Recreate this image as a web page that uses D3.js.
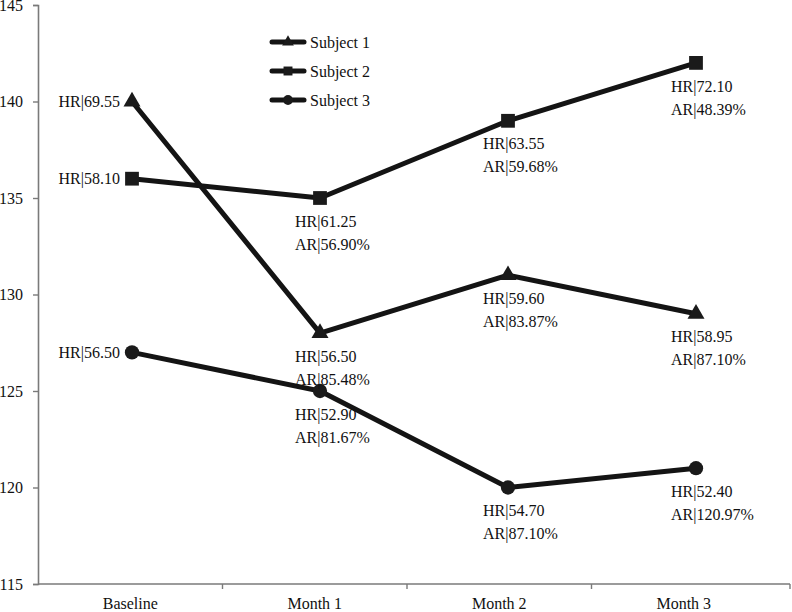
<!DOCTYPE html>
<html><head><meta charset="utf-8">
<script src="https://cdn.jsdelivr.net/npm/d3@7"></script>
</head><body style="margin:0;background:#fff"><svg id="c" width="792" height="612" font-family="Liberation Serif, Times New Roman, Times, serif"></svg>
<script>
const categories = ["Baseline","Month 1","Month 2","Month 3"];
const seriesNames = ["Subject 1","Subject 2","Subject 3"];
const subject1 = [140,128,131,129];
const subject2 = [136,135,139,142];
const subject3 = [127,125,120,121];
const hr1 = ["69.55","56.50","59.60","58.95"];
const ar1 = [null,"85.48%","83.87%","87.10%"];
const hr2 = ["58.10","61.25","63.55","72.10"];
const ar2 = [null,"56.90%","59.68%","48.39%"];
const hr3 = ["56.50","52.90","54.70","52.40"];
const ar3 = [null,"81.67%","87.10%","120.97%"];
const yTicks = [115,120,125,130,135,140,145];

(function(){
const series = [
  {name:seriesNames[0], values:subject1, hr:hr1, ar:ar1, sym:d3.symbolTriangle, size:125, lsize:60},
  {name:seriesNames[1], values:subject2, hr:hr2, ar:ar2, sym:d3.symbolSquare, size:190, lsize:80},
  {name:seriesNames[2], values:subject3, hr:hr3, ar:ar3, sym:d3.symbolCircle, size:160, lsize:75}
];

const svg = d3.select("#c");
const mLeft = 38, mRight = 790, mTop = 5, mBottom = 584;
const y = d3.scaleLinear().domain([115,145]).range([mBottom, mTop]);
const xAxisScale = d3.scaleBand().domain(categories).range([mLeft, 776]);
const x = d3.scaleBand().domain(categories).range([mLeft, mRight]);
const cx = c => x(c) + x.bandwidth()/2;
const axisColor = "#7a7a7a";
const txt = sel => sel.attr("font-family","Liberation Serif").attr("font-size",16).attr("fill","#111")
  .style("font-family","'Liberation Serif', 'Times New Roman', Times, serif");

// Y axis
const ya = svg.append("g").attr("transform",`translate(${mLeft},0)`)
  .call(d3.axisLeft(y).tickValues(yTicks).tickSize(5).tickPadding(10).tickFormat(d3.format("d")));
ya.attr("font-family",null);
ya.select(".domain").attr("stroke",axisColor).attr("stroke-width",1.6);
ya.selectAll(".tick line").attr("stroke",axisColor).attr("stroke-width",1.4);
txt(ya.selectAll(".tick text"));

// X axis
const xa = svg.append("g").attr("transform",`translate(0,${mBottom})`)
  .call(d3.axisBottom(xAxisScale).tickSize(0).tickPadding(14));
xa.attr("font-family",null);
xa.select(".domain").remove();
txt(xa.selectAll(".tick text"));
svg.append("line").attr("x1",mLeft).attr("x2",mRight).attr("y1",mBottom).attr("y2",mBottom)
  .attr("stroke",axisColor).attr("stroke-width",1.6);
const bounds = categories.slice(1).map(c => xAxisScale(c)).concat([mRight]);
svg.selectAll(".xtick").data(bounds).join("line").attr("class","xtick")
  .attr("x1",d=>d).attr("x2",d=>d).attr("y1",mBottom).attr("y2",mBottom+5)
  .attr("stroke",axisColor).attr("stroke-width",1.4);

// Lines
const line = d3.line().x((d,i)=>cx(categories[i])).y(d=>y(d));
series.forEach(s=>{
  svg.append("path").datum(s.values).attr("d",line)
    .attr("fill","none").attr("stroke","#141414").attr("stroke-width",5).attr("stroke-linejoin","round");
});
series.forEach(s=>{
  svg.selectAll(null).data(s.values).join("path")
    .attr("transform",(d,i)=>`translate(${cx(categories[i])},${y(d)})`)
    .attr("d",d3.symbol().type(s.sym).size(s.size)).attr("fill","#1a1a1a");
});

// Data labels
series.forEach(s=>{
  s.values.forEach((v,i)=>{
    const px = cx(categories[i]), py = y(v);
    if (i===0) {
      txt(svg.append("text").attr("x",px-12).attr("y",py).attr("dy","0.35em")
        .attr("text-anchor","end").text("HR|"+s.hr[i]));
    } else {
      txt(svg.append("text").attr("x",px-25).attr("y",py+23).attr("dy","0.35em")
        .text("HR|"+s.hr[i]));
      txt(svg.append("text").attr("x",px-25).attr("y",py+46).attr("dy","0.35em")
        .text("AR|"+s.ar[i]));
    }
  });
});

// Legend
const lg = svg.append("g");
series.forEach((s,i)=>{
  const ly = 42 + i*29;
  lg.append("line").attr("x1",272).attr("x2",304).attr("y1",ly).attr("y2",ly)
    .attr("stroke","#141414").attr("stroke-width",5).attr("stroke-linecap","round");
  lg.append("path").attr("transform",`translate(288,${ly})`)
    .attr("d",d3.symbol().type(s.sym).size(s.lsize)).attr("fill","#1a1a1a");
  txt(lg.append("text").attr("x",310).attr("y",ly).attr("dy","0.35em").text(s.name));
});
})();
</script></body></html>
